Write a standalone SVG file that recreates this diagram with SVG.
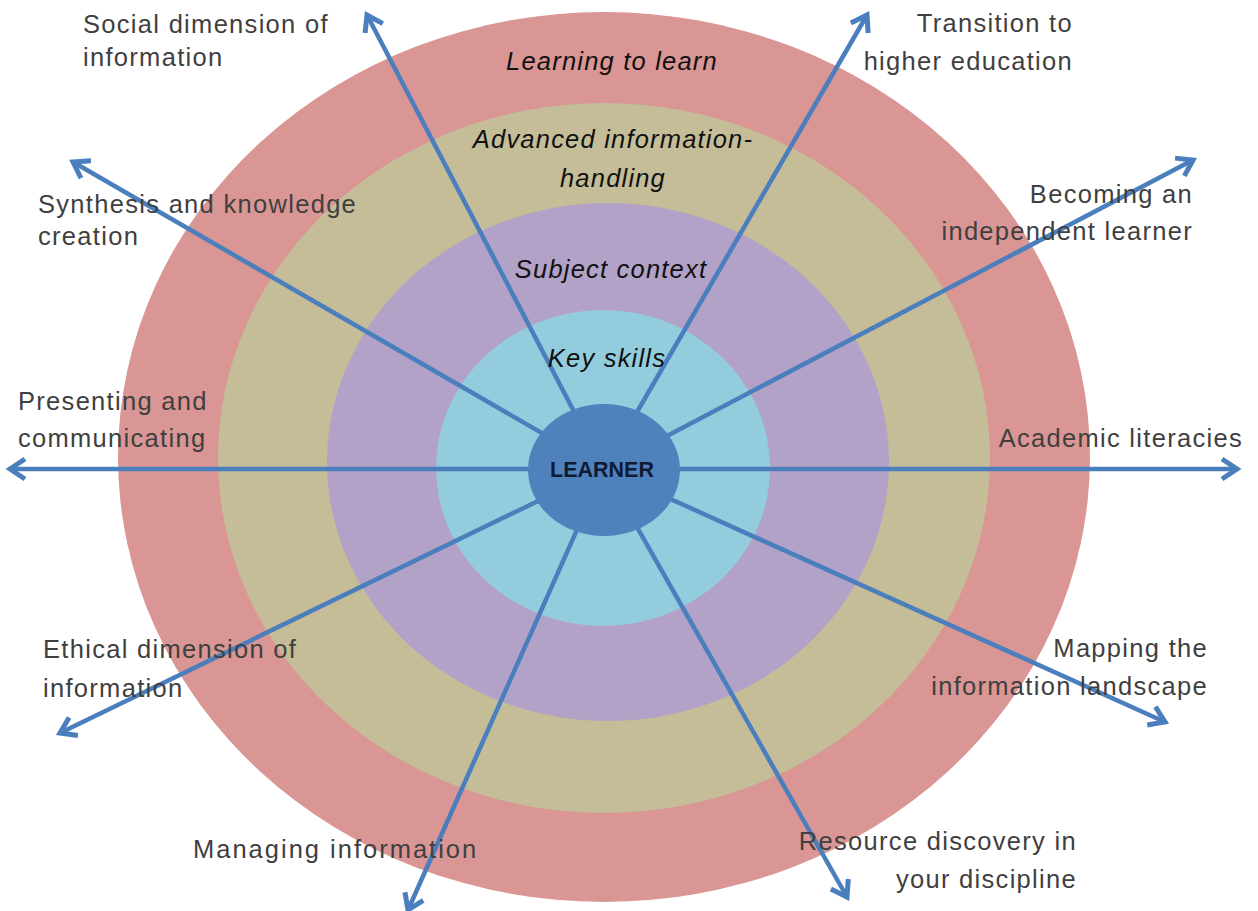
<svg xmlns="http://www.w3.org/2000/svg" width="1258" height="911" viewBox="0 0 1258 911">
<defs>
<marker id="arr" viewBox="0 0 28 28" refX="23" refY="14" markerWidth="28" markerHeight="28" markerUnits="userSpaceOnUse" orient="auto">
<path d="M8,4 L23,14 L8,24" fill="none" stroke="#4A7EBD" stroke-width="5" stroke-linejoin="miter"/>
</marker>
</defs>
<style>
.lbl{font-family:"Liberation Sans",Arial,sans-serif;font-size:25.5px;fill:#3f3f3f;letter-spacing:1.3px}
.ring{font-family:"Liberation Sans",Arial,sans-serif;font-size:25.5px;font-style:italic;fill:#111111;letter-spacing:1.2px;text-anchor:middle}
.r{text-anchor:end}
.con line{stroke:#4A7EBD;stroke-width:4.5;marker-end:url(#arr)}
</style>
<rect width="1258" height="911" fill="#ffffff"/>
<g id="ring-learning-to-learn"><ellipse cx="604" cy="457" rx="486" ry="445" fill="#D99694"/></g>
<g id="ring-advanced"><ellipse cx="604" cy="458" rx="386" ry="355" fill="#C4BD97"/></g>
<g id="ring-subject"><ellipse cx="608" cy="462" rx="281" ry="259" fill="#B2A2C7"/></g>
<g id="ring-key-skills"><ellipse cx="603" cy="468" rx="167" ry="158" fill="#93CDDD"/></g>
<g id="connectors" class="con">
<line x1="604" y1="469" x2="367" y2="15"/>
<line x1="604" y1="469" x2="867" y2="15"/>
<line x1="604" y1="469" x2="73" y2="162"/>
<line x1="604" y1="469" x2="1193" y2="160"/>
<line x1="604" y1="469" x2="10" y2="469"/>
<line x1="604" y1="469" x2="1237" y2="469"/>
<line x1="604" y1="469" x2="60" y2="733"/>
<line x1="604" y1="469" x2="1165" y2="722"/>
<line x1="604" y1="469" x2="408" y2="910"/>
<line x1="604" y1="469" x2="847" y2="897"/>
</g>
<g id="learner">
<ellipse cx="604" cy="470" rx="76" ry="66" fill="#4F81BD"/>
<text x="602" y="477" text-anchor="middle" font-family="'Liberation Sans',Arial,sans-serif" font-size="21.5" font-weight="bold" fill="#0f1a33">LEARNER</text>
</g>
<g id="ring-labels">
<text class="ring" x="612" y="70">Learning to learn</text>
<text class="ring" x="613" y="148">Advanced information-</text>
<text class="ring" x="613" y="187">handling</text>
<text class="ring" x="611" y="278">Subject context</text>
<text class="ring" x="607" y="367">Key skills</text>
</g>
<g id="label-social"><text class="lbl" x="83" y="33">Social dimension of</text><text class="lbl" x="83" y="66">information</text></g>
<g id="label-synthesis"><text class="lbl" x="38" y="213">Synthesis and knowledge</text><text class="lbl" x="38" y="245">creation</text></g>
<g id="label-presenting"><text class="lbl" x="18" y="410">Presenting and</text><text class="lbl" x="18" y="447">communicating</text></g>
<g id="label-ethical"><text class="lbl" x="43" y="658">Ethical dimension of</text><text class="lbl" x="43" y="697">information</text></g>
<g id="label-managing"><text class="lbl" x="193" y="858" style="letter-spacing:2px">Managing information</text></g>
<g id="label-transition"><text class="lbl r" x="1073" y="32">Transition to</text><text class="lbl r" x="1073" y="70">higher education</text></g>
<g id="label-becoming"><text class="lbl r" x="1193" y="203">Becoming an</text><text class="lbl r" x="1193" y="240">independent learner</text></g>
<g id="label-academic"><text class="lbl r" x="1243" y="447">Academic literacies</text></g>
<g id="label-mapping"><text class="lbl r" x="1208" y="657">Mapping the</text><text class="lbl r" x="1208" y="695">information landscape</text></g>
<g id="label-resource"><text class="lbl r" x="1077" y="850">Resource discovery in</text><text class="lbl r" x="1077" y="888">your discipline</text></g>
</svg>
